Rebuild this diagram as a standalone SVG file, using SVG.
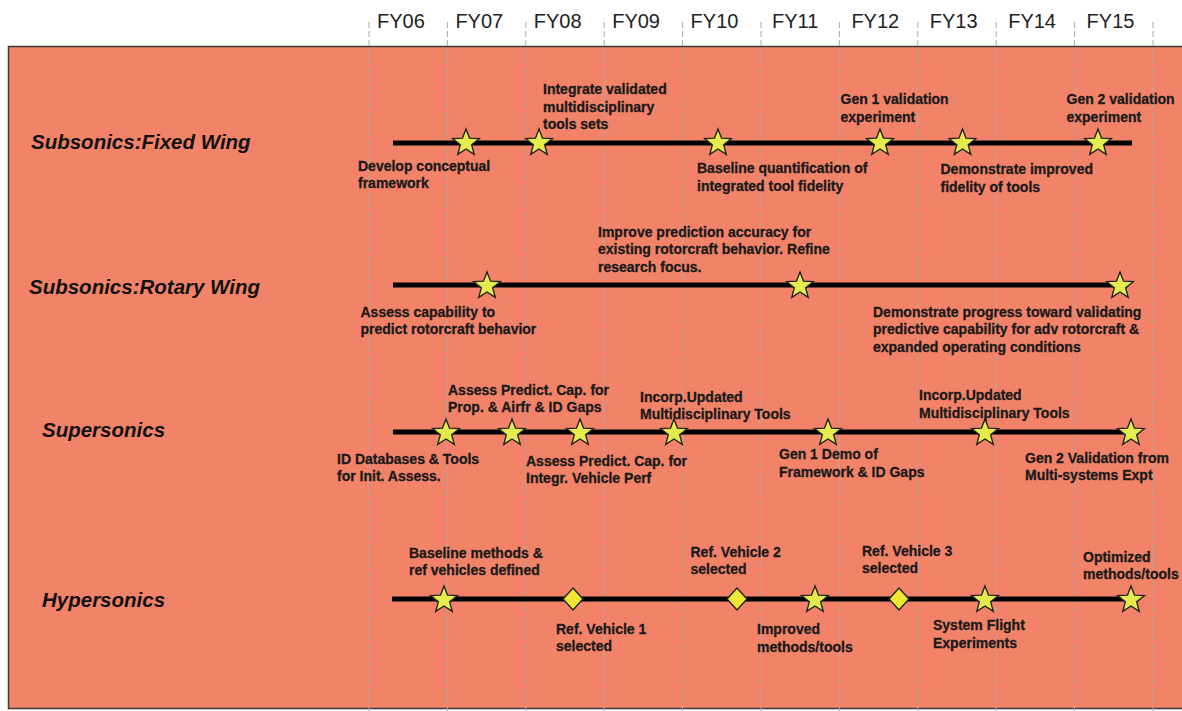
<svg xmlns="http://www.w3.org/2000/svg" xmlns:xlink="http://www.w3.org/1999/xlink" width="1182" height="711" viewBox="0 0 1182 711">
  <style>
    .yr { font-family: "Liberation Sans", Arial, sans-serif; font-size: 20px; fill: #222; }
    .row { font-family: "Liberation Sans", Arial, sans-serif; font-size: 20.5px; font-weight: bold; font-style: italic; fill: #111; }
    .lbl { font-family: "Liberation Sans", Arial, sans-serif; font-size: 14px; font-weight: bold; fill: #1a1a1a; stroke: #1a1a1a; stroke-width: 0.3; }
    .grid { stroke: #a9a9a9; stroke-width: 1; stroke-dasharray: 6 3; }
    .bar { stroke: #000; stroke-width: 5; }
    .star { fill: #e3ec4c; stroke: #222; stroke-width: 1.4; stroke-linejoin: miter; }
    .dia { fill: #efe832; stroke: #222; stroke-width: 1.4; }
  </style>
  <defs>
    <path id="star" d="M0,-14 L3.53,-4.85 L13.32,-4.33 L5.71,1.85 L8.23,11.33 L0,6 L-8.23,11.33 L-5.71,1.85 L-13.32,-4.33 L-3.53,-4.85 Z"/>
    <path id="diamond" d="M0,-11 L10,0 L0,11 L-10,0 Z"/>
  </defs>

  <rect width="1182" height="711" fill="#ffffff"/>
  <!-- main panel -->
  <rect x="8.5" y="46.5" width="1180" height="662" fill="#f28369" stroke="#3a3a3a" stroke-width="1.5"/>

  <!-- fiscal-year grid -->
  <g id="grid">
    <line class="grid" x1="369" y1="22" x2="369" y2="711"/>
    <line class="grid" x1="447.4" y1="22" x2="447.4" y2="711"/>
    <line class="grid" x1="525.8" y1="22" x2="525.8" y2="711"/>
    <line class="grid" x1="604.2" y1="22" x2="604.2" y2="711"/>
    <line class="grid" x1="682.6" y1="22" x2="682.6" y2="711"/>
    <line class="grid" x1="761" y1="22" x2="761" y2="711"/>
    <line class="grid" x1="839.4" y1="22" x2="839.4" y2="711"/>
    <line class="grid" x1="917.8" y1="22" x2="917.8" y2="711"/>
    <line class="grid" x1="996.2" y1="22" x2="996.2" y2="711"/>
    <line class="grid" x1="1074.6" y1="22" x2="1074.6" y2="711"/>
    <line class="grid" x1="1153" y1="22" x2="1153" y2="711"/>
  </g>

  <g id="years">
    <text class="yr" x="377" y="28">FY06</text>
    <text class="yr" x="455.4" y="28">FY07</text>
    <text class="yr" x="533.8" y="28">FY08</text>
    <text class="yr" x="612.2" y="28">FY09</text>
    <text class="yr" x="690.6" y="28">FY10</text>
    <text class="yr" x="772" y="28">FY11</text>
    <text class="yr" x="851.4" y="28">FY12</text>
    <text class="yr" x="929.8" y="28">FY13</text>
    <text class="yr" x="1008.2" y="28">FY14</text>
    <text class="yr" x="1086.6" y="28">FY15</text>
  </g>

  <!-- row titles -->
  <g id="row-titles">
    <text class="row" x="31" y="149">Subsonics:Fixed Wing</text>
    <text class="row" x="29" y="294">Subsonics:Rotary Wing</text>
    <text class="row" x="42" y="437">Supersonics</text>
    <text class="row" x="42" y="607">Hypersonics</text>
  </g>

  <!-- timeline bars -->
  <g id="connectors">
    <line class="bar" x1="393" y1="143" x2="1132" y2="143"/>
    <line class="bar" x1="393" y1="285" x2="1124" y2="285"/>
    <line class="bar" x1="393" y1="432" x2="1126" y2="432"/>
    <line class="bar" x1="392" y1="599" x2="1130" y2="599"/>
  </g>

  <!-- Subsonics: Fixed Wing -->
  <g id="fw-1">
    <use href="#star" class="star" x="466" y="143"/>
    <text class="lbl" x="358" y="170.5">Develop conceptual<tspan x="358" dy="17.5">framework</tspan></text>
  </g>
  <g id="fw-2">
    <use href="#star" class="star" x="539" y="143"/>
    <text class="lbl" x="543" y="94">Integrate validated<tspan x="543" dy="17.5">multidisciplinary</tspan><tspan x="543" dy="17.5">tools sets</tspan></text>
  </g>
  <g id="fw-3">
    <use href="#star" class="star" x="718" y="143"/>
    <text class="lbl" x="697" y="173">Baseline quantification of<tspan x="697" dy="17.5">integrated tool fidelity</tspan></text>
  </g>
  <g id="fw-4">
    <use href="#star" class="star" x="880" y="143"/>
    <text class="lbl" x="840.5" y="104">Gen 1 validation<tspan x="840.5" dy="17.5">experiment</tspan></text>
  </g>
  <g id="fw-5">
    <use href="#star" class="star" x="962.5" y="143"/>
    <text class="lbl" x="940.5" y="174">Demonstrate improved<tspan x="940.5" dy="17.5">fidelity of tools</tspan></text>
  </g>
  <g id="fw-6">
    <use href="#star" class="star" x="1098" y="143"/>
    <text class="lbl" x="1066.5" y="104">Gen 2 validation<tspan x="1066.5" dy="17.5">experiment</tspan></text>
  </g>

  <!-- Subsonics: Rotary Wing -->
  <g id="rw-1">
    <use href="#star" class="star" x="487" y="286"/>
    <text class="lbl" x="360.5" y="316.5">Assess capability to<tspan x="360.5" dy="17.5">predict rotorcraft behavior</tspan></text>
  </g>
  <g id="rw-2">
    <use href="#star" class="star" x="800" y="286"/>
    <text class="lbl" x="598" y="236.5">Improve prediction accuracy for<tspan x="598" dy="17.5">existing rotorcraft behavior. Refine</tspan><tspan x="598" dy="17.5">research focus.</tspan></text>
  </g>
  <g id="rw-3">
    <use href="#star" class="star" x="1120" y="286"/>
    <text class="lbl" x="873" y="316.5">Demonstrate progress toward validating<tspan x="873" dy="17.5">predictive capability for adv rotorcraft &amp;</tspan><tspan x="873" dy="17.5">expanded operating conditions</tspan></text>
  </g>

  <!-- Supersonics -->
  <g id="sp-1">
    <use href="#star" class="star" x="446" y="433"/>
    <text class="lbl" x="337" y="463.5">ID Databases &amp; Tools<tspan x="337" dy="17">for Init. Assess.</tspan></text>
  </g>
  <g id="sp-2">
    <use href="#star" class="star" x="512" y="433"/>
    <text class="lbl" x="448" y="395">Assess Predict. Cap. for<tspan x="448" dy="17">Prop. &amp; Airfr &amp; ID Gaps</tspan></text>
  </g>
  <g id="sp-3">
    <use href="#star" class="star" x="580" y="433"/>
    <text class="lbl" x="526" y="465.5">Assess Predict. Cap. for<tspan x="526" dy="17">Integr. Vehicle Perf</tspan></text>
  </g>
  <g id="sp-4">
    <use href="#star" class="star" x="674" y="433"/>
    <text class="lbl" x="640" y="401.5">Incorp.Updated<tspan x="640" dy="17.5">Multidisciplinary Tools</tspan></text>
  </g>
  <g id="sp-5">
    <use href="#star" class="star" x="828" y="433"/>
    <text class="lbl" x="779" y="459">Gen 1 Demo of<tspan x="779" dy="17.5">Framework &amp; ID Gaps</tspan></text>
  </g>
  <g id="sp-6">
    <use href="#star" class="star" x="985" y="433"/>
    <text class="lbl" x="919" y="400">Incorp.Updated<tspan x="919" dy="17.5">Multidisciplinary Tools</tspan></text>
  </g>
  <g id="sp-7">
    <use href="#star" class="star" x="1131" y="433"/>
    <text class="lbl" x="1025" y="462.5">Gen 2 Validation from<tspan x="1025" dy="17.5">Multi-systems Expt</tspan></text>
  </g>

  <!-- Hypersonics -->
  <g id="hy-1">
    <use href="#star" class="star" x="444" y="600"/>
    <text class="lbl" x="409" y="557.5">Baseline methods &amp;<tspan x="409" dy="17.5">ref vehicles defined</tspan></text>
  </g>
  <g id="hy-2">
    <use href="#diamond" class="dia" x="573" y="599"/>
    <text class="lbl" x="556" y="633.5">Ref. Vehicle 1<tspan x="556" dy="17.5">selected</tspan></text>
  </g>
  <g id="hy-3">
    <use href="#diamond" class="dia" x="737" y="599"/>
    <text class="lbl" x="690.5" y="556.5">Ref. Vehicle 2<tspan x="690.5" dy="17.5">selected</tspan></text>
  </g>
  <g id="hy-4">
    <use href="#star" class="star" x="815" y="600"/>
    <text class="lbl" x="757" y="634">Improved<tspan x="757" dy="17.5">methods/tools</tspan></text>
  </g>
  <g id="hy-5">
    <use href="#diamond" class="dia" x="899" y="599"/>
    <text class="lbl" x="862" y="555.5">Ref. Vehicle 3<tspan x="862" dy="17.5">selected</tspan></text>
  </g>
  <g id="hy-6">
    <use href="#star" class="star" x="985" y="600"/>
    <text class="lbl" x="933" y="630">System Flight<tspan x="933" dy="17.5">Experiments</tspan></text>
  </g>
  <g id="hy-7">
    <use href="#star" class="star" x="1131" y="600"/>
    <text class="lbl" x="1083" y="561.5">Optimized<tspan x="1083" dy="17.5">methods/tools</tspan></text>
  </g>
</svg>
